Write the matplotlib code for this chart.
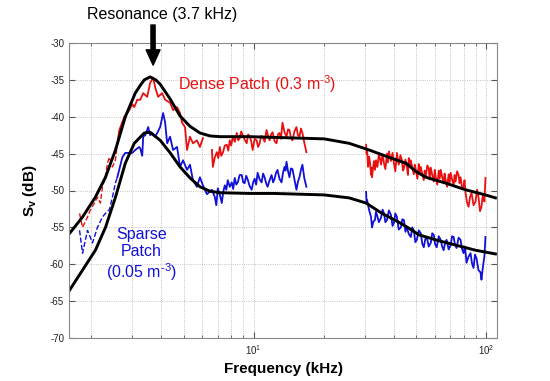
import numpy as np
import matplotlib
matplotlib.use('Agg')
import matplotlib.pyplot as plt
from matplotlib.ticker import LogLocator, NullFormatter, FixedLocator

plt.rcParams['font.family'] = ['Liberation Sans', 'DejaVu Sans']
plt.rcParams['axes.unicode_minus'] = False
plt.rcParams['mathtext.fontset'] = 'custom'
plt.rcParams['mathtext.rm'] = 'Liberation Sans'
plt.rcParams['mathtext.bf'] = 'Liberation Sans:bold'

# model fits (kHz, dB)
dense_fit_f = [1.62, 1.84, 2.09, 2.31, 2.55, 2.81, 3.10, 3.25, 3.39, 3.59, 3.80, 3.97, 4.38,
               4.83, 5.33, 5.88, 6.49, 7.16, 9.61, 12.3, 20.1, 25.7, 31.3, 38.1, 45.1,
               49.7, 54.9, 66.8, 81.3, 99.0, 109.3]
dense_fit_db = [-55.8, -53.6, -50.9, -48.2, -44.5, -40.0, -36.8, -35.8, -35.0, -34.6, -35.0,
                -35.6, -37.6, -39.9, -41.3, -42.2, -42.6, -42.7, -42.7, -42.8, -43.0, -43.6,
                -44.5, -45.5, -46.3, -47.4, -48.2, -49.0, -49.9, -50.6, -51.0]

sparse_fit_f = [1.62, 1.84, 2.09, 2.31, 2.55, 2.81, 3.07, 3.39, 3.59, 3.97, 4.38, 4.83, 5.33,
                5.88, 6.49, 7.16, 9.61, 12.3, 20.1, 25.7, 30.4, 35.6, 42.0, 46.4, 51.2,
                60.6, 73.7, 89.8, 109.3]
sparse_fit_db = [-63.5, -60.8, -58.1, -55.0, -50.9, -46.3, -43.6, -42.2, -42.1, -43.2, -44.9,
                 -46.8, -48.3, -49.5, -50.1, -50.3, -50.4, -50.4, -50.6, -51.0, -51.7, -53.1,
                 -54.3, -55.1, -56.0, -56.7, -57.4, -58.1, -58.6]

# measured spectra, dense patch: (kHz, dB)
red_dash = [(1.787, -53.1), (1.841, -55.0), (1.933, -53.6), (1.991, -52.6), (2.071, -51.7),
            (2.134, -50.9), (2.197, -51.7), (2.241, -49.5), (2.308, -48.2), (2.354, -46.3),
            (2.401, -45.5), (2.474, -46.8), (2.547, -45.9), (2.597, -43.6)]

red_low = [(2.597, -43.6), (2.649, -41.8), (2.783, -40.0), (2.923, -39.1), (3.011, -38.3),
           (3.070, -38.7), (3.162, -37.7), (3.257, -37.7), (3.354, -36.8), (3.488, -37.3),
           (3.594, -35.4), (3.702, -34.7), (3.775, -36.0), (3.888, -37.3), (4.045, -36.8),
           (4.167, -37.7), (4.375, -38.1), (4.507, -39.1), (4.688, -38.7), (4.829, -39.5),
           (4.925, -40.8), (5.072, -41.4), (5.173, -44.5), (5.327, -42.7), (5.486, -43.6),
           (5.706, -43.2), (5.877, -44.1), (6.054, -42.9)]

red_mid = [(6.615, -44.5), (6.681, -46.8), (6.81, -45.5), (6.949, -44.8), (7.05, -45.6),
           (7.156, -44.1), (7.26, -45.3), (7.370, -44.9), (7.52, -43.9), (7.666, -43.8),
           (7.78, -44.6), (7.896, -43.2), (8.01, -43.9), (8.134, -42.7), (8.30, -43.4),
           (8.460, -42.2), (8.59, -43.2), (8.714, -42.9), (8.84, -42.0), (8.974, -42.5),
           (9.15, -43.1), (9.335, -43.6), (9.47, -42.4), (9.614, -42.7), (9.76, -43.3),
           (9.902, -44.5), (10.10, -43.0), (10.30, -43.2), (10.45, -44.1), (10.61, -43.6),
           (10.77, -42.6), (10.93, -42.7), (11.15, -43.4), (11.36, -41.8), (11.53, -42.6),
           (11.71, -43.2), (11.88, -42.4), (12.06, -42.1), (12.30, -43.3), (12.54, -43.6),
           (12.72, -42.4), (12.91, -42.2), (13.10, -43.0), (13.30, -40.8), (13.57, -42.1),
           (13.84, -42.7), (14.05, -41.7), (14.25, -41.8), (14.46, -42.9), (14.68, -43.2),
           (14.97, -42.0), (15.27, -41.4), (15.50, -42.5), (15.73, -42.7), (15.97, -41.6),
           (16.20, -42.2), (16.50, -43.5), (16.85, -44.8)]

red_high = [(30.41, -43.8), (30.56, -45.0), (30.71, -44.5), (31.0, -46.8), (31.32, -45.4),
            (31.6, -46.2), (31.94, -47.9), (32.1, -46.9), (32.25, -48.2), (32.57, -47.0),
            (32.89, -46.0), (33.2, -47.2), (33.54, -45.9), (34.0, -46.8), (34.55, -44.9),
            (34.9, -45.7), (35.24, -46.5), (35.8, -45.1), (36.29, -46.3), (36.8, -47.1),
            (37.38, -45.0), (37.75, -46.2), (38.13, -44.7), (38.5, -45.4), (38.88, -46.0),
            (39.5, -44.9), (40.05, -46.3), (40.6, -47.4), (41.25, -44.9), (41.6, -45.8),
            (42.0, -46.5), (42.7, -45.2), (43.34, -45.9), (43.8, -47.3), (44.20, -47.0),
            (44.9, -45.8), (45.52, -46.8), (46.0, -47.9), (46.4, -45.6), (46.9, -46.6),
            (47.35, -45.9), (48.0, -46.9), (48.76, -47.8), (49.2, -46.5), (49.74, -47.2),
            (50.5, -48.4), (51.2, -46.4), (51.7, -47.5), (52.24, -46.8), (53.0, -47.8),
            (53.80, -48.6), (54.3, -47.3), (54.87, -48.2), (55.7, -46.6), (56.5, -47.0),
            (57.0, -48.5), (57.65, -46.9), (58.5, -47.9), (59.37, -48.8), (60.0, -47.2),
            (60.55, -48.2), (61.5, -49.2), (62.4, -47.3), (63.0, -48.4), (63.60, -47.2),
            (64.5, -48.1), (65.50, -49.0), (66.1, -47.7), (66.80, -48.6), (67.8, -49.5),
            (68.8, -47.8), (69.5, -48.9), (70.18, -47.6), (71.2, -48.5), (72.28, -49.3),
            (73.0, -47.9), (73.71, -48.8), (74.8, -47.4), (75.9, -47.9), (76.6, -49.0),
            (77.42, -48.2), (78.5, -49.6), (79.73, -49.5), (80.5, -48.6), (81.32, -50.3),
            (82.5, -51.6), (83.76, -52.2), (85.0, -50.9), (86.29, -50.3), (88.0, -52.0),
            (89.75, -51.5), (91.1, -49.9), (92.45, -50.9), (93.8, -52.8), (95.20, -52.2),
            (96.1, -51.0), (97.10, -50.5), (98.0, -51.5), (99.02, -48.3)]

# measured spectra, sparse patch: (kHz, dB)
blue_dash = [(1.787, -55.4), (1.841, -58.5), (1.933, -55.4), (2.031, -57.1), (2.134, -55.0),
             (2.241, -53.6), (2.308, -53.1), (2.401, -52.6), (2.474, -50.9), (2.547, -49.0),
             (2.597, -48.2)]

blue_low = [(2.597, -48.2), (2.729, -45.5), (2.810, -44.9), (3.011, -44.9), (3.100, -44.5),
            (3.225, -44.1), (3.257, -44.3), (3.322, -45.3), (3.354, -42.7), (3.422, -42.5),
            (3.524, -41.4), (3.594, -42.5), (3.666, -42.2), (3.775, -42.7), (3.850, -42.2),
            (3.966, -41.4), (4.085, -39.5), (4.167, -40.8), (4.250, -43.6), (4.375, -42.7),
            (4.507, -44.5), (4.688, -44.1), (4.829, -46.8), (4.974, -45.9), (5.173, -47.2),
            (5.327, -46.5), (5.486, -48.6), (5.706, -49.5), (5.877, -48.2), (6.054, -49.3),
            (6.30, -50.5), (6.615, -49.9), (6.813, -50.9), (6.91, -52.0), (7.017, -49.7),
            (7.16, -50.6), (7.298, -51.7), (7.40, -50.2), (7.517, -49.3), (7.63, -49.9),
            (7.743, -48.6), (7.90, -49.5), (8.054, -48.9), (8.17, -49.8), (8.295, -48.3),
            (8.42, -49.2), (8.544, -48.9), (8.71, -47.9), (8.887, -47.9), (9.02, -48.9),
            (9.152, -49.0), (9.29, -48.0), (9.427, -48.5), (9.61, -49.4), (9.805, -49.9),
            (9.95, -48.9), (10.10, -48.4), (10.25, -49.2), (10.40, -47.6), (10.61, -48.5),
            (10.82, -48.9), (10.98, -47.7), (11.14, -48.2), (11.31, -49.0), (11.48, -49.5),
            (11.71, -48.6), (11.94, -47.9), (12.12, -48.9), (12.30, -48.4), (12.48, -47.6),
            (12.66, -47.2), (12.91, -48.4), (13.17, -48.9), (13.37, -47.6), (13.57, -46.8),
            (13.70, -47.3), (13.84, -46.1), (14.05, -47.4), (14.25, -48.2), (14.46, -47.0),
            (14.68, -47.1), (14.97, -48.5), (15.27, -49.9), (15.50, -48.8), (15.73, -48.2),
            (15.97, -47.2), (16.20, -46.5), (16.50, -48.3), (16.85, -49.5)]

blue_high = [(30.41, -50.2), (30.56, -51.8), (30.71, -51.3), (31.3, -52.6), (31.94, -53.6),
             (32.1, -54.4), (32.25, -55.0), (32.7, -54.2), (33.21, -54.0), (33.5, -52.9),
             (33.87, -53.3), (34.5, -54.3), (35.24, -53.7), (35.8, -52.6), (36.29, -53.1),
             (36.8, -54.3), (37.38, -54.0), (38.1, -52.7), (38.88, -53.3), (39.5, -54.8),
             (40.05, -54.4), (40.6, -53.1), (41.25, -53.6), (42.0, -55.3), (42.91, -55.0),
             (43.5, -53.9), (44.20, -54.0), (44.9, -55.6), (45.52, -55.0), (46.4, -55.9),
             (47.35, -56.3), (48.0, -55.0), (48.76, -55.4), (49.5, -57.0), (50.23, -56.7),
             (51.2, -55.4), (52.24, -55.8), (53.0, -57.2), (53.80, -57.7), (54.6, -56.6),
             (55.41, -56.3), (56.5, -57.6), (57.65, -57.1), (58.5, -55.8), (59.37, -56.0),
             (60.2, -57.3), (61.15, -57.7), (62.4, -56.2), (63.60, -56.7), (64.5, -57.6),
             (65.50, -58.1), (66.5, -57.0), (67.46, -56.7), (68.8, -58.0), (70.18, -57.4),
             (71.2, -56.2), (72.28, -56.3), (73.3, -57.4), (74.44, -57.8), (75.9, -56.4),
             (77.42, -56.7), (78.5, -57.9), (79.73, -58.5), (80.9, -57.6), (82.12, -59.8),
             (83.7, -59.0), (85.42, -58.5), (86.7, -59.9), (88.01, -60.5), (89.3, -58.7),
             (90.64, -59.2), (92.4, -60.8), (94.28, -61.1), (95.20, -62.1), (96.1, -60.9),
             (97.10, -59.8), (98.0, -58.9), (99.02, -56.3)]

red = '#e81010'
blue = '#1010d8'

fig = plt.figure(figsize=(5.5, 3.81), dpi=100)
ax = fig.add_axes([69/550, 43/381, 428/550, 295/381])

for seg, ls, lw, col in [(red_dash, '--', 1.0, red), (blue_dash, '--', 1.0, blue),
                         (red_low, '-', 1.3, red), (red_mid, '-', 1.3, red),
                         (red_high, '-', 1.3, red), (blue_low, '-', 1.3, blue),
                         (blue_high, '-', 1.3, blue)]:
    f, db = np.array(seg).T
    ax.semilogx(f, db, ls, color=col, lw=lw)

ax.semilogx(dense_fit_f, dense_fit_db, '-', color='black', lw=2.1)
ax.semilogx(sparse_fit_f, sparse_fit_db, '-', color='black', lw=2.1)

ax.set_xlim(1.61, 111)
ax.set_ylim(-70, -30)
ax.yaxis.set_major_locator(FixedLocator(np.arange(-70, -29, 5)))
ax.xaxis.set_major_locator(LogLocator(base=10))
ax.xaxis.set_minor_locator(LogLocator(base=10, subs=np.arange(2, 10)))
ax.xaxis.set_minor_formatter(NullFormatter())
ax.grid(True, which='both', ls=':', color='#b0b0b0', lw=0.6)
ax.tick_params(which='both', direction='in', top=True, right=True, labelsize=7,
               colors='#555555', labelcolor='#222222')
ax.tick_params(which='major', length=4)
ax.tick_params(which='minor', length=2.5)
for s in ax.spines.values():
    s.set_color('#888888')
    s.set_linewidth(0.8)

ax.set_xlabel('Frequency (kHz)', fontsize=11, fontweight='bold', labelpad=4)
ax.set_ylabel(r'$\mathbf{S_v}$ (dB)', fontsize=11, fontweight='bold', labelpad=8)

ax.text(4.73, -36.4, r'Dense Patch (0.3 m$^{\text{-3}}$)', color=red, fontsize=11.5,
        va='baseline')
ax.text(3.29, -55.0, 'Sparse\nPatch\n' + r'(0.05 m$^{\text{-3}}$)', color=blue, fontsize=11.5,
        va='top', ha='center', linespacing=1.15)

fig.text(162/550, 1 - 15/381, 'Resonance (3.7 kHz)', fontsize=11.5, ha='center', va='center')
ax.annotate('', xy=(3.7, -33.0), xytext=(153/550, 1 - 25/381), textcoords='figure fraction',
            arrowprops=dict(facecolor='black', edgecolor='black', width=3, headwidth=10,
                            headlength=11, shrink=0), annotation_clip=False)

fig.savefig('out.png', dpi=100)
